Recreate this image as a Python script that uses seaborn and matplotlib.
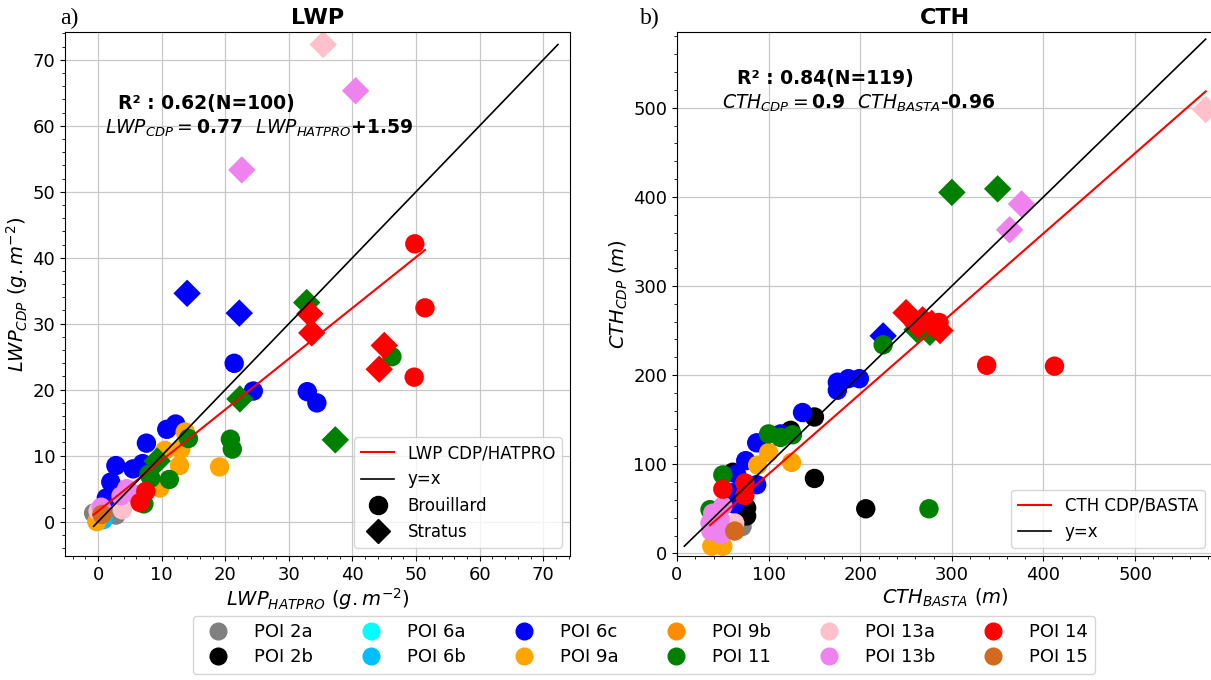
import pandas as pd
import matplotlib
matplotlib.use("Agg")
import matplotlib.pyplot as plt
from matplotlib.lines import Line2D
import seaborn as sns

# ── DATA ──────────────────────────────────────────────────────────────────────

POI_ORDER = ["2a", "2b", "6a", "6b", "6c", "9a", "9b", "11", "13a", "13b", "14", "15"]
POI_COLORS = ["grey", "black", "cyan", "deepskyblue", "blue", "orange",
              "darkorange", "green", "pink", "violet", "red", "chocolate"]

# LWP (g.m-2) : HATPRO vs CDP
lwp_hatpro = [35.4, 40.5, 22.6, 14.0, 22.2, 32.8, 33.3, 33.6, 45.0, 44.2, 22.3, 37.3, 9.3,
              49.8, 51.4, 46.2, 49.7, 21.4, 24.4, 32.9, 34.4, 20.8, 21.1, 19.1, 10.8,
              12.2, 13.7, 14.2, 7.6, 10.5, 13.0, 12.8, 2.8, 5.5, 7.0, 8.0, 8.3, 11.2,
              9.7, 2.0, 1.3, 4.5, 5.4, 3.6, 7.5, 6.6, 7.2, 3.8, 2.8, -0.7, 0.5, 0.4,
              0.8, 0.6, -0.2, 0.0]
lwp_cdp = [72.3, 65.3, 53.3, 34.6, 31.6, 33.2, 31.5, 28.6, 26.7, 23.1, 18.6, 12.4, 9.2,
           42.1, 32.4, 25.0, 21.9, 24.0, 19.8, 19.7, 18.0, 12.5, 11.0, 8.3, 14.0,
           14.8, 13.6, 12.6, 11.9, 10.8, 11.0, 8.5, 8.5, 8.0, 8.8, 7.2, 6.6, 6.4,
           5.1, 6.0, 3.6, 5.0, 4.3, 3.9, 4.6, 2.9, 2.7, 1.8, 1.0, 1.3, 2.2, 0.5,
           0.3, 1.1, 0.0, 1.6]
lwp_poi = ["13a", "13b", "13b", "6c", "6c", "11", "14", "14", "14", "14", "11", "11", "11",
           "14", "14", "11", "14", "6c", "6c", "6c", "6c", "11", "11", "9a", "6c",
           "6c", "9a", "11", "6c", "9a", "9a", "9a", "6c", "6c", "6c", "11", "11", "11",
           "9a", "6c", "6c", "13b", "13b", "13b", "14", "14", "11", "13a", "2a", "2a",
           "13b", "6a", "6b", "15", "9a", "13a"]
lwp_type = ["Stratus"] * 13 + ["Brouillard"] * 43
lwp_slope, lwp_inter, lwp_r2, lwp_n = 0.77, 1.59, 0.62, 100

# CTH (m) : BASTA vs CDP
cth_basta = [577, 300, 350, 376, 363, 225, 262, 276, 250, 268, 278, 287, 263,
             286, 225, 338, 412, 175, 175, 187, 199, 137, 150, 113, 100, 113, 126,
             124, 87, 100, 88, 125, 150, 206, 275, 75, 65, 87, 60, 63, 61, 76, 76,
             50, 50, 74, 74, 36, 39, 50, 37, 48, 36, 47, 42, 63, 71, 63, 38, 50]
cth_cdp = [498, 405, 409, 392, 363, 244, 251, 248, 270, 262, 258, 250, 256,
           259, 234, 211, 210, 192, 183, 196, 196, 158, 153, 134, 134, 130, 133,
           138, 124, 113, 99, 102, 84, 50, 50, 104, 89, 77, 68, 55, 91, 51, 42,
           88, 72, 79, 65, 49, 45, 53, 25, 21, 34, 38, 30, 34, 30, 25, 8, 8]
cth_poi = ["13a", "11", "11", "13b", "13b", "6c", "11", "11", "14", "14", "14", "14", "14",
           "14", "11", "14", "14", "6c", "6c", "6c", "6c", "6c", "2b", "6c", "11", "11", "11",
           "2b", "6c", "9a", "9a", "9a", "2b", "2b", "11", "6c", "6c", "6c", "6c", "6c", "2b", "2b", "2b",
           "11", "14", "14", "14", "11", "13b", "13b", "13b", "13b", "13b", "13b", "13b", "13a", "2a", "15", "9a", "9a"]
cth_type = ["Stratus"] * 13 + ["Brouillard"] * 47
cth_slope, cth_inter, cth_r2, cth_n = 0.9, -0.96, 0.84, 119

# ── SETUP ─────────────────────────────────────────────────────────────────────

plt.rcParams["font.family"] = ["DejaVu Sans"]
plt.rcParams["mathtext.fontset"] = "dejavusans"
palette = dict(zip(POI_ORDER, POI_COLORS))
markers = {"Brouillard": "o", "Stratus": "D"}


def make_df(x, y, poi, typ):
    d = pd.DataFrame({"x": x, "y": y, "poi": poi, "type": typ})
    d["order"] = d["poi"].map({p: i for i, p in enumerate(POI_ORDER)})
    return d.sort_values("order", kind="stable")


fig = plt.figure(figsize=(12.11, 6.8), dpi=100)
W, H = 1211, 680
ax1 = fig.add_axes([65 / W, 124 / H, 505 / W, 524 / H])
ax2 = fig.add_axes([677 / W, 124 / H, 536 / W, 524 / H])

panels = [
    (ax1, make_df(lwp_hatpro, lwp_cdp, lwp_poi, lwp_type), lwp_slope, lwp_inter, lwp_r2, lwp_n,
     "LWP", "LWP CDP/HATPRO", "HATPRO", (-5.2, 74.2), (-5.2, 74.2)),
    (ax2, make_df(cth_basta, cth_cdp, cth_poi, cth_type), cth_slope, cth_inter, cth_r2, cth_n,
     "CTH", "CTH CDP/BASTA", "BASTA", (0, 585), (-3, 585)),
]

for ax, d, a, b, r2, n, var, fitlab, ref, xl, yl in panels:
    ax.set_axisbelow(True)
    ax.grid(True, color="#c8c8c8", lw=0.9)
    sns.scatterplot(data=d, x="x", y="y", hue="poi", style="type", palette=palette,
                    hue_order=POI_ORDER, markers=markers, s=195, linewidth=0,
                    legend=False, ax=ax, zorder=2)
    lo = min(d["x"].min(), d["y"].min())
    hi = max(d["x"].max(), d["y"].max())
    xs = pd.Series([d["x"].min(), d["x"].max()])
    ax.plot(xs, a * xs + b, color="red", lw=1.5, zorder=3, label=fitlab)
    ax.plot([lo, hi], [lo, hi], color="black", lw=1.2, zorder=3, label="y=x")
    ax.set_xlim(*xl)
    ax.set_ylim(*yl)
    ax.minorticks_on()
    ax.tick_params(labelsize=13)
    ax.set_title(var, fontsize=16, fontweight="bold")
    unit = r"\ (g.m^{-2})" if var == "LWP" else r"\ (m)"
    ax.set_xlabel(r"$%s_{%s}%s$" % (var, ref, unit), fontsize=14, labelpad=2)
    ax.set_ylabel(r"$%s_{CDP}%s$" % (var, unit), fontsize=14, labelpad=2)

    handles = [Line2D([0], [0], color="red", lw=1.5, label=fitlab),
               Line2D([0], [0], color="black", lw=1.2, label="y=x")]
    if var == "LWP":
        handles += [Line2D([0], [0], marker="o", ls="none", color="black", ms=13, label="Brouillard"),
                    Line2D([0], [0], marker="D", ls="none", color="black", ms=12, label="Stratus")]
    ax.legend(handles=handles, loc="lower right", fontsize=12)

    sign = "+" if b >= 0 else "-"
    tx = ax.transAxes
    if var == "LWP":
        p1, p2 = (0.105, 0.8645), (0.079, 0.817)
    else:
        p1, p2 = (0.112, 0.911), (0.084, 0.864)
    ax.text(*p1, "R² : %.2f(N=%d)" % (r2, n), transform=tx, fontsize=13.5,
            fontweight="bold", va="center")
    ax.text(*p2, r"$%s_{CDP}=$" % var + "%g  " % a + r"$%s_{%s}$" % (var, ref)
            + "%s%g" % (sign, abs(b)), transform=tx, fontsize=13.5, fontweight="bold", va="center")

ax1.set_xticks(range(0, 71, 10))
ax1.set_yticks(range(0, 71, 10))
ax2.set_xticks(range(0, 501, 100))
ax2.set_yticks(range(0, 501, 100))

fig.text(60 / W, 1 - 18 / H, "a)", family="Liberation Serif", fontsize=17, va="center")
fig.text(640 / W, 1 - 18 / H, "b)", family="Liberation Serif", fontsize=17, va="center")

poi_handles = [Line2D([0], [0], marker="o", ls="none", color=c, ms=12, label="POI " + p)
               for p, c in zip(POI_ORDER, POI_COLORS)]
fig.legend(handles=poi_handles, ncol=6, loc="upper center",
           bbox_to_anchor=(644 / W, 1 - 607 / H), fontsize=13,
           columnspacing=2.2, handletextpad=1.0, labelspacing=0.4, frameon=True)

fig.savefig("out.png", dpi=100)
